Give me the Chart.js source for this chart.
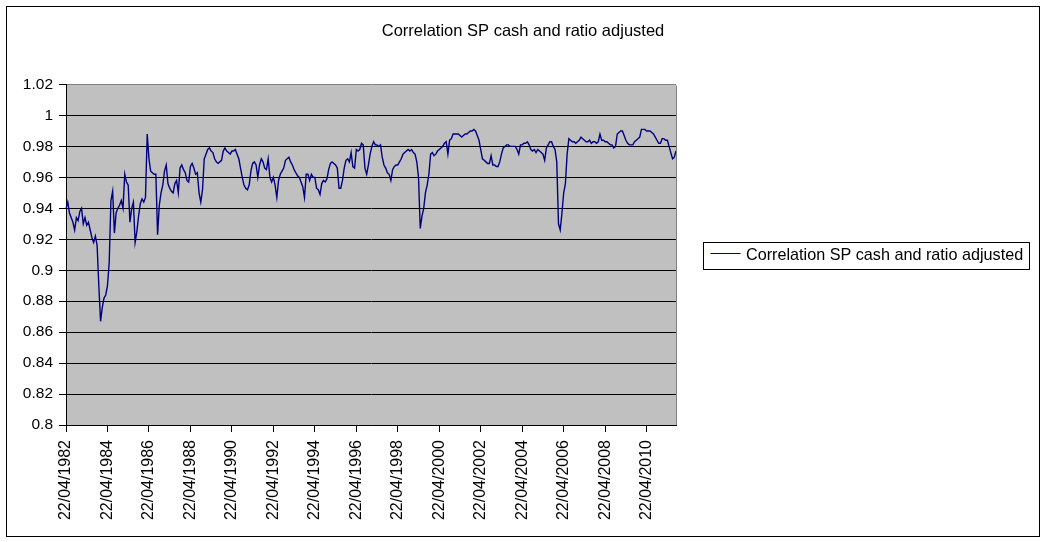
<!DOCTYPE html>
<html>
<head>
<meta charset="utf-8">
<script src="https://cdn.jsdelivr.net/npm/chart.js@4/dist/chart.umd.min.js"></script>
<style>
html,body{margin:0;padding:0;background:#fff;}
canvas{display:block;}
</style>
</head>
<body>
<canvas id="c" width="1046" height="542"></canvas>
<script>
const chartTitle = 'Correlation SP cash and ratio adjusted';
const seriesLabel = 'Correlation SP cash and ratio adjusted';

const tickLabels = ['22/04/1982','22/04/1984','22/04/1986','22/04/1988','22/04/1990','22/04/1992','22/04/1994',
  '22/04/1996','22/04/1998','22/04/2000','22/04/2002','22/04/2004','22/04/2006','22/04/2008','22/04/2010'];

const yMin = 0.8, yMax = 1.02, yStep = 0.02;

// monthly readings, Apr 1982 - Mar 1987
const corr1982to1987 = [
  0.940,0.944,0.937,0.934,0.931,0.926,0.934,0.932,0.938,0.940,
  0.930,0.934,0.929,0.931,0.926,0.921,0.918,0.922,0.916,0.890,
  0.867,0.876,0.882,0.884,0.890,0.905,0.945,0.951,0.924,0.937,
  0.940,0.942,0.945,0.940,0.962,0.957,0.955,0.931,0.940,0.944,
  0.918,0.925,0.935,0.943,0.946,0.944,0.947,0.988,0.972,0.964,
  0.963,0.962,0.962,0.923,0.942,0.950,0.955,0.964,0.968,0.956];
// Apr 1987 - Mar 1992
const corr1987to1992 = [
  0.953,0.951,0.950,0.956,0.958,0.950,0.966,0.968,0.965,0.963,
  0.958,0.957,0.967,0.969,0.966,0.962,0.963,0.950,0.944,0.952,
  0.972,0.975,0.978,0.979,0.977,0.976,0.972,0.970,0.969,0.970,
  0.971,0.977,0.979,0.977,0.976,0.975,0.977,0.977,0.978,0.975,
  0.972,0.966,0.960,0.955,0.953,0.952,0.955,0.964,0.969,0.970,
  0.968,0.960,0.968,0.972,0.970,0.966,0.965,0.972,0.960,0.957];
// Apr 1992 - Mar 1997
const corr1992to1997 = [
  0.960,0.955,0.947,0.958,0.962,0.964,0.966,0.971,0.972,0.973,
  0.970,0.968,0.965,0.963,0.961,0.960,0.957,0.954,0.947,0.962,
  0.962,0.958,0.962,0.960,0.960,0.953,0.952,0.949,0.956,0.958,
  0.957,0.959,0.965,0.969,0.970,0.969,0.968,0.966,0.953,0.953,
  0.958,0.966,0.971,0.972,0.970,0.976,0.967,0.966,0.978,0.977,
  0.978,0.982,0.981,0.966,0.962,0.968,0.975,0.980,0.983,0.981];
// Apr 1997 - Mar 2002
const corr1997to2002 = [
  0.981,0.980,0.981,0.973,0.968,0.966,0.963,0.962,0.958,0.965,
  0.967,0.968,0.968,0.970,0.972,0.975,0.976,0.977,0.978,0.977,
  0.978,0.976,0.975,0.970,0.960,0.927,0.935,0.940,0.950,0.955,
  0.962,0.975,0.976,0.974,0.975,0.977,0.978,0.979,0.980,0.982,
  0.983,0.975,0.984,0.985,0.988,0.988,0.988,0.988,0.987,0.986,
  0.987,0.988,0.988,0.989,0.990,0.990,0.991,0.990,0.987,0.984];
// Apr 2002 - Mar 2007
const corr2002to2007 = [
  0.978,0.972,0.971,0.970,0.969,0.969,0.974,0.968,0.968,0.967,
  0.967,0.970,0.975,0.979,0.980,0.981,0.981,0.980,0.980,0.980,
  0.980,0.978,0.975,0.981,0.981,0.982,0.982,0.983,0.981,0.978,
  0.977,0.978,0.976,0.978,0.977,0.976,0.975,0.971,0.979,0.981,
  0.983,0.983,0.980,0.978,0.970,0.930,0.926,0.937,0.950,0.956,
  0.975,0.985,0.984,0.983,0.983,0.982,0.983,0.984,0.986,0.985];
// Apr 2007 - Sep 2011
const corr2007to2011 = [
  0.984,0.983,0.983,0.984,0.982,0.983,0.983,0.982,0.983,0.988,
  0.984,0.984,0.983,0.983,0.982,0.981,0.981,0.979,0.980,0.988,
  0.989,0.990,0.990,0.987,0.984,0.982,0.981,0.981,0.981,0.983,
  0.984,0.985,0.986,0.991,0.991,0.991,0.990,0.990,0.990,0.989,
  0.988,0.986,0.984,0.982,0.982,0.985,0.985,0.984,0.984,0.980,
  0.976,0.972,0.973,0.977];

const values = [].concat(corr1982to1987, corr1987to1992, corr1992to1997,
                         corr1997to2002, corr2002to2007, corr2007to2011);

// category labels: one per month starting 22/04/1982
const categories = values.map((_, i) => {
  const mi = 3 + i;
  const y = 1982 + Math.floor(mi / 12);
  const m = (mi % 12) + 1;
  return '22/' + String(m).padStart(2, '0') + '/' + y;
});

const FONT = 'Liberation Sans';

const framePlugin = {
  id: 'frame',
  beforeDraw(chart) {
    const { ctx, chartArea: a } = chart;
    ctx.save();
    ctx.fillStyle = '#ffffff';
    ctx.fillRect(0, 0, chart.width, chart.height);
    ctx.fillStyle = '#C0C0C0';
    ctx.fillRect(a.left, a.top, a.right - a.left, a.bottom - a.top);
    ctx.restore();
  },
  afterDraw(chart) {
    const { ctx, chartArea: a } = chart;
    const ds = chart.data.datasets[0];
    ctx.save();
    ctx.lineWidth = 1;
    // plot area right border
    ctx.strokeStyle = '#808080';
    const rx = Math.round(a.right) + 0.5;
    ctx.beginPath();
    ctx.moveTo(rx, Math.round(a.top) + 0.5);
    ctx.lineTo(rx, a.bottom);
    ctx.stroke();
    // outer chart border
    ctx.strokeStyle = '#000000';
    ctx.strokeRect(6.5, 6.5, 1033, 530);
    // chart title, centred on the whole chart
    ctx.fillStyle = '#000000';
    ctx.font = '16.5px "' + FONT + '"';
    ctx.textAlign = 'center';
    ctx.textBaseline = 'alphabetic';
    ctx.fillText(chartTitle, chart.width / 2, 35.5);
    // legend
    const bx = Math.round(a.right) + 27.5;
    const by = Math.round((a.top + a.bottom) / 2) - 12.5;
    ctx.strokeRect(bx, by, 326, 27);
    ctx.strokeStyle = ds.borderColor;
    ctx.beginPath();
    ctx.moveTo(bx + 7, by + 11);
    ctx.lineTo(bx + 37, by + 11);
    ctx.stroke();
    ctx.font = '16.2px "' + FONT + '"';
    ctx.textAlign = 'left';
    ctx.fillText(ds.label, bx + 42.5, by + 17);
    ctx.restore();
  }
};

new Chart(document.getElementById('c'), {
  type: 'line',
  data: {
    labels: categories,
    datasets: [{
      label: seriesLabel,
      data: values,
      borderColor: '#000080',
      backgroundColor: '#000080',
      borderWidth: 1.4,
      pointRadius: 0,
      tension: 0,
      fill: false
    }]
  },
  options: {
    responsive: false,
    animation: false,
    devicePixelRatio: 1,
    layout: { padding: { left: 0, right: 370, top: 84.5, bottom: 0 } },
    plugins: {
      legend: { display: false },
      tooltip: { enabled: false },
      title: { display: false }
    },
    scales: {
      x: {
        type: 'category',
        offset: false,
        afterFit(s) { s.height = 117; },
        grid: {
          display: true,
          drawOnChartArea: false,
          drawTicks: true,
          tickLength: 7,
          tickColor: (c) => tickLabels.includes(categories[c.index]) ? '#000' : 'rgba(0,0,0,0)',
          color: 'rgba(0,0,0,0)'
        },
        border: { display: true, color: '#000', width: 1 },
        ticks: {
          autoSkip: false,
          minRotation: 90,
          maxRotation: 90,
          padding: 8,
          color: '#000',
          font: { family: FONT, size: 16 },
          callback: (v, i) => tickLabels.includes(categories[i]) ? categories[i] : ''
        }
      },
      y: {
        min: yMin,
        max: yMax,
        afterFit(s) { s.width = 66; },
        grid: {
          color: (c) => (c.tick && Math.abs(c.tick.value - yMax) < 1e-6) ? '#808080' : '#000000',
          tickColor: '#000',
          lineWidth: 1,
          drawTicks: true,
          tickLength: 7
        },
        border: { display: true, color: '#000', width: 1 },
        ticks: {
          stepSize: yStep,
          padding: 6,
          color: '#000',
          font: { family: FONT, size: 15.5 },
          callback: (v) => String(parseFloat(Number(v).toFixed(2)))
        }
      }
    }
  },
  plugins: [framePlugin]
});
</script>
</body>
</html>
